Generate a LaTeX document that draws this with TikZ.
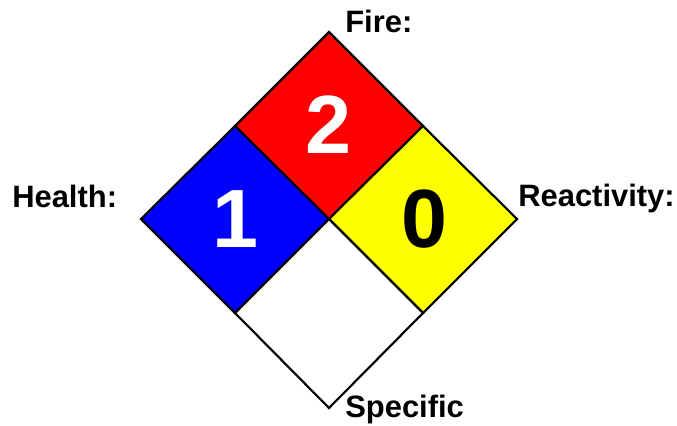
\documentclass[tikz,border=0pt]{standalone}
\usepackage{fontspec}
\setmainfont{Liberation Sans}
\definecolor{firered}{HTML}{FF0000}
\definecolor{healthblue}{HTML}{0000FF}
\definecolor{reactyellow}{HTML}{FFFF00}
\definecolor{darkline}{HTML}{000000}
\tikzset{
  quad/.style={draw=darkline, line width=1.6pt, line join=miter},
  label/.style={font=\fontsize{23.2}{27}\selectfont\bfseries, text=darkline,
                inner sep=0pt, anchor=base west},
  rating/.style={font=\fontsize{62}{70}\selectfont\bfseries, inner sep=0pt,
                 anchor=base},
}
\begin{document}
\begin{tikzpicture}[x=0.75pt, y=-0.75pt]
\useasboundingbox (0,0) rectangle (677,425);

% Vertices of the diamond
\coordinate (top) at (329,32);
\coordinate (lft) at (141,219);
\coordinate (rgt) at (517,219);
\coordinate (bot) at (329,408);
\coordinate (mid) at (329,219);
\coordinate (tl) at (235,126);
\coordinate (tr) at (423,126);
\coordinate (bl) at (235,313);
\coordinate (br) at (423,313);

% Quadrants
\filldraw[quad, fill=firered] (top) -- (tr) -- (mid) -- (tl) -- cycle;
\filldraw[quad, fill=healthblue] (tl) -- (mid) -- (bl) -- (lft) -- cycle;
\filldraw[quad, fill=reactyellow] (tr) -- (rgt) -- (br) -- (mid) -- cycle;
\filldraw[quad, fill=white] (mid) -- (br) -- (bot) -- (bl) -- cycle;

% Ratings
\node[rating, text=white] (fire) at (328,153) {2};
\node[rating, text=white] (health) at (235,247) {1};
\node[rating, text=darkline] (react) at (424,247) {0};

% Labels
\node[label] (firelbl) at (345,32) {Fire:};
\node[label] (healthlbl) at (12,207) {Health:};
\node[label] (reactlbl) at (518,206) {Reactivity:};
\node[label] (speclbl) at (345,417) {Specific};

\end{tikzpicture}
\end{document}
